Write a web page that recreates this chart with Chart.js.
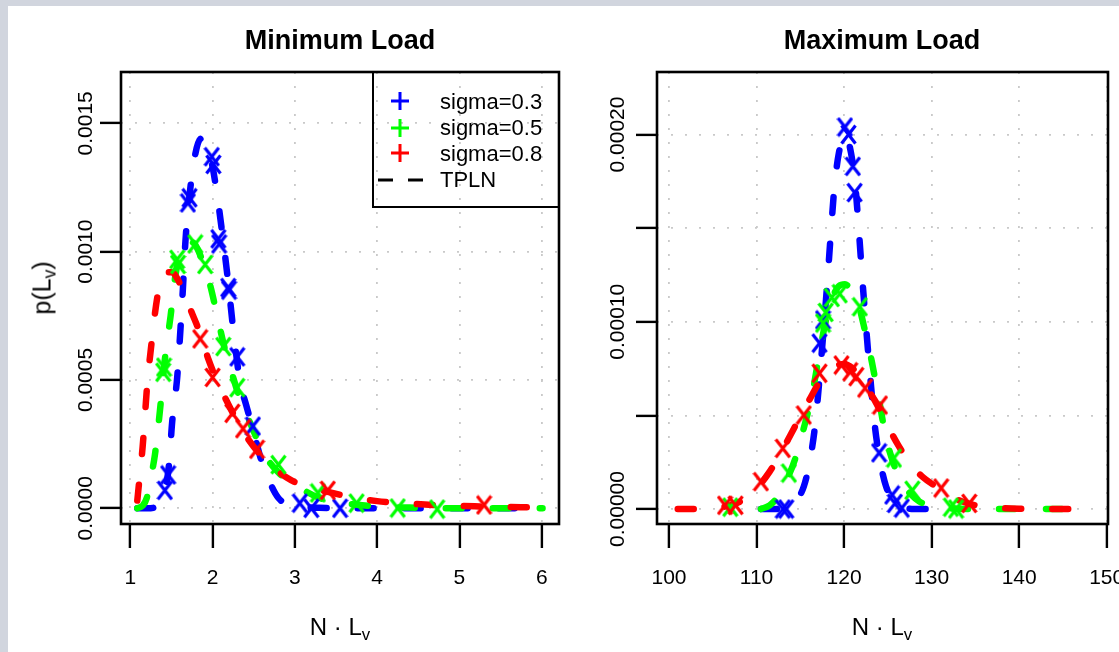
<!DOCTYPE html>
<html>
<head>
<meta charset="utf-8">
<script src="https://cdn.jsdelivr.net/npm/chart.js@4.4.1/dist/chart.umd.min.js"></script>
<style>
html,body{margin:0;padding:0;width:1119px;height:652px;overflow:hidden;background:#d1d5de;font-family:"Liberation Sans",Arial,Helvetica,sans-serif;}
#sheet{position:absolute;left:8px;top:6px;width:1111px;height:646px;background:#fff;}
canvas{position:absolute;top:0;}
#cMin{left:0;}
#cMax{left:570px;}
.t{position:absolute;white-space:nowrap;color:#000;line-height:1;transform:translate(-50%,-50%);}
.title{font-weight:bold;font-size:27px;}
.axt{font-size:24px;}
.axt sub{font-size:70%;vertical-align:-0.3em;line-height:0;}
#legend{position:absolute;left:372px;top:71px;width:188px;height:137px;border:2.5px solid #000;box-sizing:border-box;}
.lt{position:absolute;white-space:nowrap;font-size:22px;line-height:1;transform:translateY(-50%);left:440px;}
svg{position:absolute;overflow:visible;}
</style>
</head>
<body>
<div id="sheet"></div>
<canvas id="cMin" width="570" height="652"></canvas>
<canvas id="cMax" width="549" height="652"></canvas>

<div class="t title" style="left:340px;top:40px;">Minimum Load</div>
<div class="t title" style="left:882px;top:40px;">Maximum Load</div>
<div class="t axt" style="left:42px;top:288px;transform:translate(-50%,-50%) rotate(-90deg);font-size:25px;">p(L<sub>v</sub>)</div>
<div class="t axt" style="left:340px;top:627px;">N · L<sub>v</sub></div>
<div class="t axt" style="left:882px;top:627px;">N · L<sub>v</sub></div>

<div id="legend"></div>
<svg style="left:390px;top:91px" width="20" height="20"><path d="M10 1V19M1 10H19" stroke="#0000ff" stroke-width="3"/></svg>
<svg style="left:390px;top:118px" width="20" height="20"><path d="M10 1V19M1 10H19" stroke="#00ff00" stroke-width="3"/></svg>
<svg style="left:390px;top:143px" width="20" height="20"><path d="M10 1V19M1 10H19" stroke="#ff0000" stroke-width="3"/></svg>
<svg style="left:376px;top:170px" width="50" height="20"><path d="M2 10H17M32 10H47" stroke="#000" stroke-width="3"/></svg>
<div class="lt" style="top:102px;">sigma=0.3</div>
<div class="lt" style="top:128px;">sigma=0.5</div>
<div class="lt" style="top:154px;">sigma=0.8</div>
<div class="lt" style="top:180px;">TPLN</div>

<script>
// ---------- Tick values and labels ----------
const minXTicks = [1, 2, 3, 4, 5, 6];
const minXLabels = ["1", "2", "3", "4", "5", "6"];
const minYTicks = [0, 0.0005, 0.001, 0.0015];
const minYLabels = ["0.0000", "0.0005", "0.0010", "0.0015"];
const maxXTicks = [100, 110, 120, 130, 140, 150];
const maxXLabels = ["100", "110", "120", "130", "140", "150"];
const maxYTicks = [0, 0.00005, 0.0001, 0.00015, 0.0002];
const maxYLabels = ["0.00000", "", "0.00010", "", "0.00020"];

// ---------- Minimum Load: TPLN curves ----------
const minTplnX_s03 = [1.085, 1.2, 1.3, 1.38, 1.43, 1.47, 1.51, 1.57, 1.61, 1.64, 1.67, 1.72, 1.79, 1.86, 1.93, 2.0, 2.06, 2.13, 2.19, 2.25, 2.33, 2.41, 2.49, 2.58, 2.67, 2.8, 3.0, 3.3, 4.0, 5.0, 6.01];
const minTplnY_s03 = [0, 0, 0.000004, 0.00003, 0.00008, 0.00017, 0.00034, 0.00051, 0.0007, 0.00086, 0.00104, 0.00122, 0.00138, 0.00144, 0.00142, 0.00133, 0.00121, 0.00104, 0.00088, 0.0007, 0.0005, 0.0004, 0.00031, 0.0002, 0.00012, 0.00004, 0.00001, 0.000002, 0, 0, 0];
const minTplnX_s05 = [1.085, 1.15, 1.2, 1.25, 1.3, 1.36, 1.42, 1.49, 1.55, 1.62, 1.7, 1.78, 1.87, 1.97, 2.07, 2.15, 2.25, 2.35, 2.46, 2.61, 2.8, 3.06, 3.3, 3.6, 4.0, 4.5, 5.0, 6.01];
const minTplnY_s05 = [0, 0.00001, 0.00004, 0.00012, 0.00021, 0.00038, 0.00058, 0.00075, 0.00091, 0.001, 0.00104, 0.00103, 0.00097, 0.00087, 0.00073, 0.00062, 0.00051, 0.00041, 0.00033, 0.00022, 0.00014, 0.00008, 0.00004, 0.00002, 0.000007, 0.000002, 0, 0];
const minTplnX_s08 = [1.085, 1.11, 1.15, 1.18, 1.21, 1.25, 1.3, 1.35, 1.42, 1.5, 1.58, 1.66, 1.75, 1.85, 1.95, 2.05, 2.2, 2.35, 2.5, 2.7, 2.9, 3.1, 3.4, 3.7, 4.0, 4.4, 4.8, 5.3, 6.01];
const minTplnY_s08 = [0.00003, 0.00011, 0.00024, 0.00037, 0.0005, 0.00062, 0.00076, 0.00086, 0.00092, 0.00092, 0.00089, 0.00083, 0.00076, 0.00068, 0.00058, 0.0005, 0.0004, 0.00031, 0.00024, 0.00017, 0.00012, 0.000088, 0.000064, 0.000042, 0.000028, 0.000018, 0.000011, 0.000007, 0.000003];

// ---------- Minimum Load: simulated points ----------
const minPtsX_s03 = [1.42, 1.46, 1.70, 1.72, 1.99, 2.01, 2.07, 2.08, 2.19, 2.20, 2.30, 2.49, 3.06, 3.2, 3.55];
const minPtsY_s03 = [0.00007, 0.00013, 0.00119, 0.00121, 0.00137, 0.00134, 0.00105, 0.00103, 0.00086, 0.00085, 0.00059, 0.00032, 0.00002, 0.0, 0.0];
const minPtsX_s05 = [1.40, 1.41, 1.57, 1.58, 1.79, 1.91, 2.13, 2.30, 2.80, 3.28, 3.75, 4.25, 4.73];
const minPtsY_s05 = [0.00053, 0.00055, 0.00097, 0.00095, 0.00103, 0.00095, 0.00063, 0.00047, 0.00017, 0.00006, 0.00002, 0.000001, -0.000003];
const minPtsX_s08 = [1.85, 2.0, 2.24, 2.37, 2.54, 3.4, 5.3];
const minPtsY_s08 = [0.00066, 0.00051, 0.00037, 0.00031, 0.00023, 0.00007, 0.000013];

// ---------- Maximum Load: TPLN curves ----------
const maxTplnX_s03 = [110.5, 112, 113.5, 114.4, 115.4, 116.1, 116.7, 117.2, 117.7, 118.1, 118.5, 118.9, 119.4, 120.1, 120.8, 121.3, 121.7, 122.1, 122.5, 123.0, 123.5, 124.1, 124.8, 125.8, 126.8, 128, 130];
const maxTplnY_s03 = [0, 0, 0.000001, 0.000004, 0.000012, 0.000026, 0.000045, 0.00007, 0.000098, 0.000122, 0.000148, 0.000172, 0.00019, 0.0002, 0.00019, 0.000172, 0.000148, 0.000122, 0.000098, 0.00007, 0.000045, 0.000026, 0.000012, 0.000004, 0.000001, 0, 0];
const maxTplnX_s05 = [110.5, 111.5, 112.5, 113.5, 114.5, 115.5, 116.3, 117.0, 117.8, 118.6, 119.4, 120.1, 120.8, 121.6, 122.4, 123.2, 124.0, 124.8, 125.6, 126.6, 127.6, 128.6, 130, 132, 135, 146.5];
const maxTplnY_s05 = [0, 0.000002, 0.000007, 0.000016, 0.000028, 0.000045, 0.00006, 0.000078, 0.000098, 0.000112, 0.000119, 0.00012, 0.000117, 0.00011, 0.000095, 0.000078, 0.000058, 0.000038, 0.000025, 0.000014, 0.000008, 0.000004, 0.0000015, 0.0000004, 0, 0];
const maxTplnX_s08 = [101, 103, 105, 107, 108.5, 110, 111.5, 113, 114.5, 116, 117.5, 119, 120, 121, 122.3, 123.5, 124.8, 126.2, 127.6, 129, 130.5, 132, 133.5, 135, 137, 140, 146.5];
const maxTplnY_s08 = [0, 0, 0.0000005, 0.000002, 0.000005, 0.000011, 0.00002, 0.000032, 0.000045, 0.000058, 0.00007, 0.000076, 0.0000775, 0.000075, 0.000067, 0.000058, 0.000046, 0.000034, 0.000024, 0.000017, 0.000012, 0.000007, 0.000004, 0.000002, 0.0000008, 0.0000002, 0];

// ---------- Maximum Load: simulated points ----------
const maxPtsX_s03 = [113.0, 113.4, 117.2, 117.6, 120.1, 120.5, 121.0, 121.2, 124.0, 125.5, 125.8, 126.6];
const maxPtsY_s03 = [0, 0, 0.0000886, 0.000101, 0.000204, 0.0002, 0.000183, 0.000169, 0.00003, 0.0000075, 0.000003, 0.0000005];
const maxPtsX_s05 = [107.0, 113.7, 117.6, 117.9, 118.6, 119.5, 121.8, 125.7, 127.8, 132.2, 132.8];
const maxPtsY_s05 = [0.000001, 0.0000192, 0.0000993, 0.000105, 0.000113, 0.000115, 0.000108, 0.0000272, 0.00001, 0.000001, 0];
const maxPtsX_s08 = [106.4, 107.6, 110.5, 113.0, 115.4, 117.2, 119.7, 120.7, 121.4, 122.4, 124.1, 131.1, 134.3];
const maxPtsY_s08 = [0.000002, 0.000002, 0.0000146, 0.0000324, 0.0000502, 0.0000725, 0.0000769, 0.0000733, 0.0000707, 0.0000646, 0.0000555, 0.0000112, 0.000003];

// ---------- helpers ----------
const BLUE = '#0000ff', GREEN = '#00ff00', RED = '#ff0000';
const FONT = '"Liberation Sans", Arial, Helvetica, sans-serif';
Chart.defaults.font.family = FONT;

function pairs(xs, ys) { return xs.map((x, i) => ({x: x, y: ys[i]})); }

function xMark(color) {
  const c = document.createElement('canvas');
  c.width = 17; c.height = 21;
  const g = c.getContext('2d');
  g.strokeStyle = color; g.lineWidth = 3.2;
  g.beginPath();
  g.moveTo(1.5, 1.5); g.lineTo(15.5, 19.5);
  g.moveTo(15.5, 1.5); g.lineTo(1.5, 19.5);
  g.stroke();
  return c;
}
const marks = {b: xMark(BLUE), g: xMark(GREEN), r: xMark(RED)};

function lineDs(xs, ys, color, order) {
  return {data: pairs(xs, ys), showLine: true, borderColor: color, borderWidth: 6.5,
    borderDash: [16, 31], borderCapStyle: 'round', borderJoinStyle: 'round',
    tension: 0.4, cubicInterpolationMode: 'monotone', pointRadius: 0, fill: false, order: order};
}
function ptsDs(xs, ys, img, order) {
  return {data: pairs(xs, ys), showLine: false, pointStyle: img, pointRadius: 8, order: order};
}

const boxPlugin = {
  id: 'rbox',
  afterDatasetsDraw(chart) {
    const a = chart.chartArea, ctx = chart.ctx;
    ctx.save();
    ctx.strokeStyle = '#000'; ctx.lineWidth = 2.6;
    ctx.strokeRect(a.left, a.top, a.right - a.left, a.bottom - a.top);
    ctx.restore();
  }
};

function makeChart(id, cfg) {
  const gridOpts = {color: '#c9c9c9', lineWidth: 1.8, tickColor: '#000', tickWidth: 2.4, drawTicks: true};
  return new Chart(document.getElementById(id), {
    type: 'scatter',
    data: {datasets: cfg.datasets},
    options: {
      responsive: false, animation: false, devicePixelRatio: 1,
      layout: {padding: {left: 0, top: 72, right: 11, bottom: 0}},
      plugins: {legend: {display: false}, tooltip: {enabled: false}, title: {display: false}},
      scales: {
        x: {
          type: 'linear', position: 'bottom', min: cfg.xMin, max: cfg.xMax,
          afterBuildTicks: s => { s.ticks = cfg.xTicks.map(v => ({value: v})); },
          afterFit: s => { s.height = 128; s.paddingLeft = 0; s.paddingRight = 0; },
          ticks: {autoSkip: false, maxRotation: 0, minRotation: 0, padding: 18, color: '#000',
            font: {size: 21, family: FONT}, callback: (v, i) => cfg.xLabels[i]},
          grid: Object.assign({tickLength: 24}, gridOpts),
          border: {display: false, dash: [2, 12]}
        },
        y: {
          type: 'linear', position: 'left', min: cfg.yMin, max: cfg.yMax,
          afterBuildTicks: s => { s.ticks = cfg.yTicks.map(v => ({value: v})); },
          afterFit: s => { s.width = cfg.yWidth; s.paddingTop = 0; s.paddingBottom = 0; },
          ticks: {autoSkip: false, minRotation: 90, maxRotation: 90, crossAlign: 'center',
            padding: cfg.yPad, color: '#000', font: {size: 21, family: FONT},
            callback: (v, i) => cfg.yLabels[i]},
          grid: Object.assign({tickLength: 21}, gridOpts),
          border: {display: false, dash: [2, 12]}
        }
      }
    },
    plugins: [boxPlugin]
  });
}

makeChart('cMin', {
  xMin: 0.887, xMax: 6.21, yMin: -0.0000612, yMax: 0.0017,
  xTicks: minXTicks, xLabels: minXLabels, yTicks: minYTicks, yLabels: minYLabels,
  yWidth: 121, yPad: -18,
  datasets: [
    lineDs(minTplnX_s03, minTplnY_s03, BLUE, 6),
    lineDs(minTplnX_s05, minTplnY_s05, GREEN, 5),
    lineDs(minTplnX_s08, minTplnY_s08, RED, 4),
    ptsDs(minPtsX_s03, minPtsY_s03, marks.b, 3),
    ptsDs(minPtsX_s05, minPtsY_s05, marks.g, 2),
    ptsDs(minPtsX_s08, minPtsY_s08, marks.r, 1)
  ]
});

makeChart('cMax', {
  xMin: 98.63, xMax: 150.15, yMin: -0.000008, yMax: 0.0002334,
  xTicks: maxXTicks, xLabels: maxXLabels, yTicks: maxYTicks, yLabels: maxYLabels,
  yWidth: 87, yPad: -20,
  datasets: [
    lineDs(maxTplnX_s03, maxTplnY_s03, BLUE, 6),
    lineDs(maxTplnX_s05, maxTplnY_s05, GREEN, 5),
    lineDs(maxTplnX_s08, maxTplnY_s08, RED, 4),
    ptsDs(maxPtsX_s03, maxPtsY_s03, marks.b, 3),
    ptsDs(maxPtsX_s05, maxPtsY_s05, marks.g, 2),
    ptsDs(maxPtsX_s08, maxPtsY_s08, marks.r, 1)
  ]
});
</script>
</body>
</html>
